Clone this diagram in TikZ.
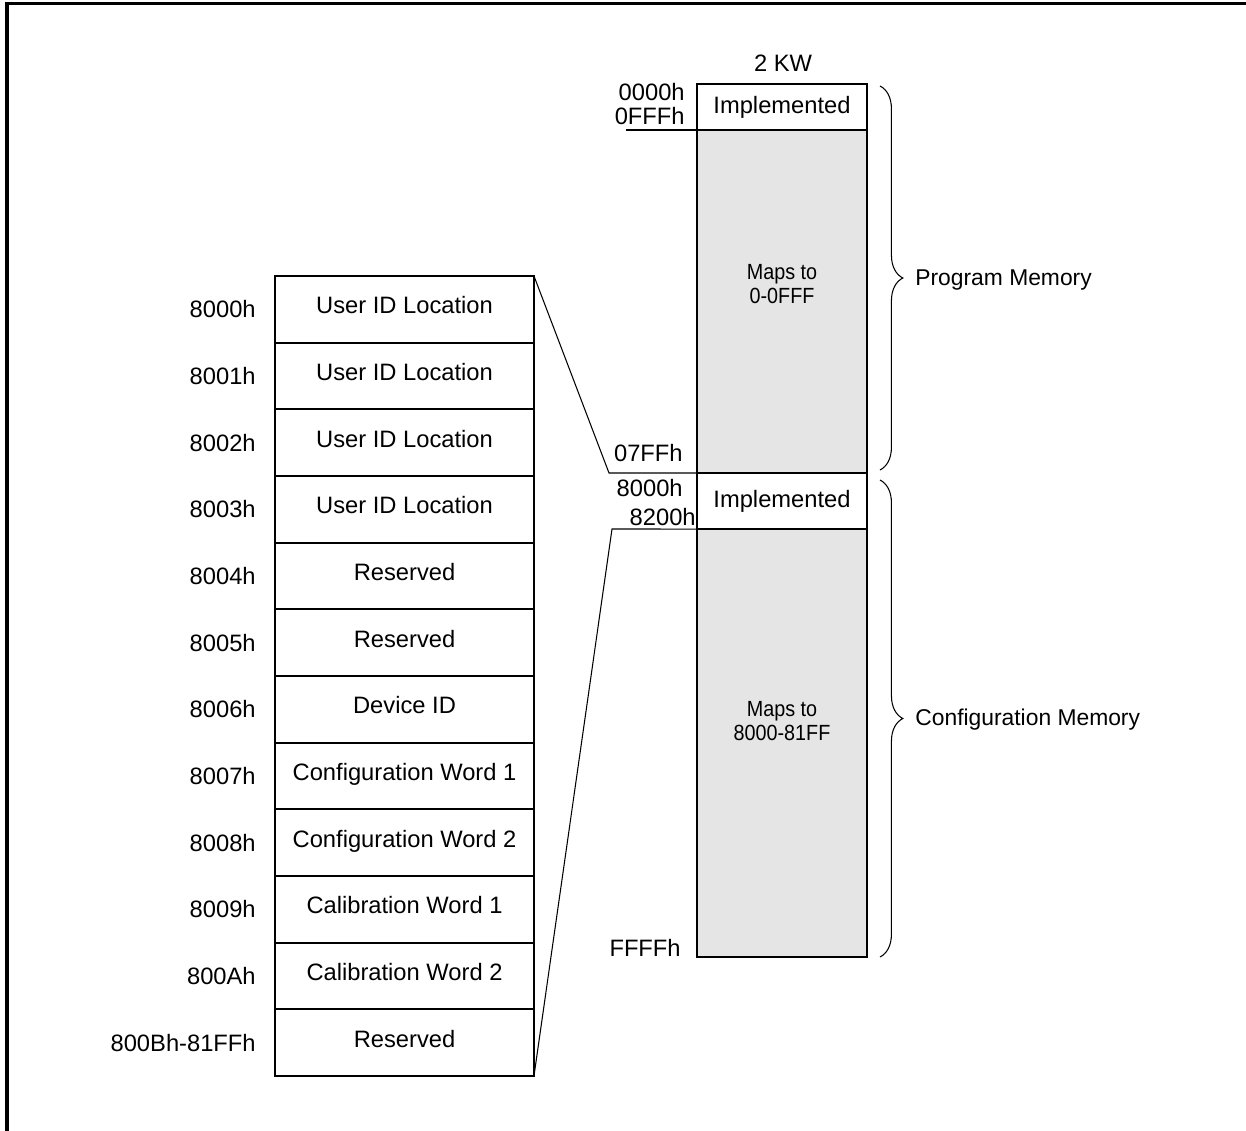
\documentclass[tikz,border=0pt]{standalone}
\usepackage{fontspec}
\setmainfont{Liberation Sans}
\usetikzlibrary{positioning, decorations.pathreplacing}

\tikzset{
  txt/.style={font=\fontsize{13.5}{16}\selectfont},
  cell/.style={txt, draw, line width=1.1pt, minimum width=5.18cm, minimum height=1.3333cm, inner sep=0pt, outer sep=0pt, text height=0.34cm, text depth=0.16cm},
  addr/.style={txt, anchor=east, inner sep=0pt},
  memblk/.style={txt, draw, line width=1.1pt, minimum width=3.4cm, inner sep=0pt, outer sep=0pt},
  mapblk/.style={memblk, fill=gray!20},
  maptxt/.style={align=center, inner sep=0pt, font=\fontsize{12.5}{13.5}\selectfont, xscale=0.9},
  link/.style={line width=0.6pt},
  curly/.style={decorate, decoration={brace, amplitude=13pt}, line width=0.6pt},
  bracelbl/.style={font=\fontsize{13}{16}\selectfont, anchor=west, inner sep=0pt}
}

\begin{document}
\begin{tikzpicture}[x=0.02cm, y=-0.02cm]
  \useasboundingbox (0,0) rectangle (1246,1131);
  % frame (open at right and bottom)
  \draw[line width=1.8pt] (7,1131) -- (7,3.5) -- (1246,3.5);

  % === LEFT: configuration words ===
  \foreach \name/\adr [count=\i] in {User ID Location/8000h, User ID Location/8001h,
      User ID Location/8002h, User ID Location/8003h, Reserved/8004h, Reserved/8005h,
      Device ID/8006h, Configuration Word 1/8007h, Configuration Word 2/8008h,
      Calibration Word 1/8009h, Calibration Word 2/800Ah, Reserved/800Bh-81FFh} {
    \node[cell] (c\i) at (404.5, {276+66.667*(\i-0.5)}) {\name};
    \node[addr] (a\i) at (256, {276+66.667*(\i-0.5)}) {\adr};
  }

  % === RIGHT: memory map ===
  \node[txt] (kw) at (783,63) {2 KW};
  \node[memblk, minimum height=0.92cm] (impl1) at (782,107) {Implemented};
  \node[mapblk, minimum height=6.86cm] (prog) at (782,301.5) {};
  \node[maptxt] (progtxt) at (782,284) {Maps to\\0-0FFF};
  \node[memblk, minimum height=1.12cm] (impl2) at (782,501) {Implemented};
  \node[mapblk, minimum height=8.56cm] (conf) at (782,743) {};
  \node[maptxt] (conftxt) at (782,721) {Maps to\\8000-81FF};

  % addresses
  \node[addr] (r0000) at (685,92) {0000h};
  \node[addr] (r0fff) at (685,116) {0FFFh};
  \node[addr] (r07ff) at (683,453) {07FFh};
  \node[addr] (r8000) at (683,488) {8000h};
  \node[addr] (r8200) at (696,517) {8200h};
  \node[addr] (rffff) at (681,948) {FFFFh};

  % lines
  \coordinate (tick) at (626,130);
  \coordinate (topfold) at (609,473);
  \coordinate (botfold) at (612,529);
  \draw[line width=1.1pt] (tick) -- (impl1.south west);
  \draw[link] (c1.north east) -- (topfold) -- (impl2.north west);
  \draw[link] (c12.south east) -- (botfold) -- (conf.north west);

  % braces
  \draw[curly] (880,86) -- (880,470);
  \node[bracelbl] (pm) at (915,280) {Program Memory};
  \draw[curly] (880,480) -- (880,957);
  \node[bracelbl] (cm) at (915,720) {Configuration Memory};
\end{tikzpicture}
\end{document}
